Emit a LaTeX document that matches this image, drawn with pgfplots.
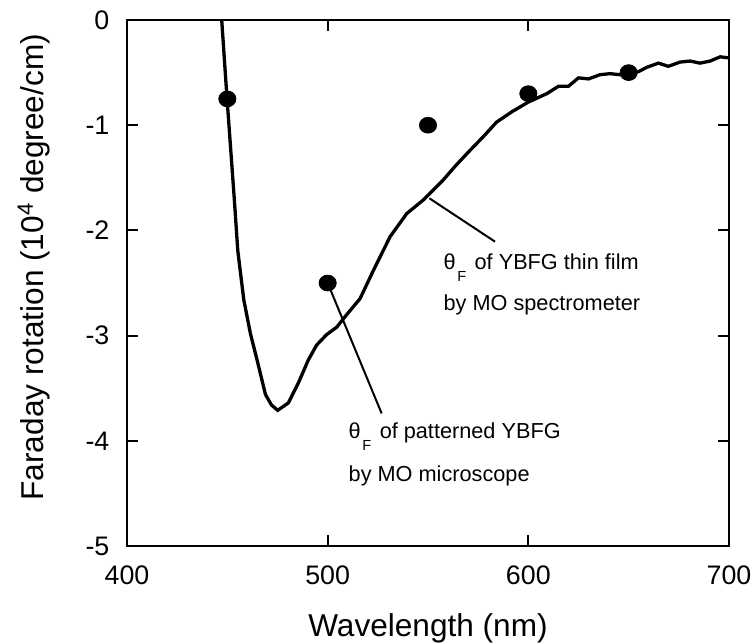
\documentclass[border=0pt]{standalone}
\usepackage{fontspec}
\setmainfont{Liberation Sans}
\usepackage{pgfplots}
\pgfplotsset{compat=1.18}
\begin{document}
\begin{tikzpicture}
\begin{axis}[
 width=301pt, height=263pt, scale only axis,
 xmin=400, xmax=700, ymin=-5, ymax=0,
 xtick={400,500,600,700}, ytick={-5,-4,-3,-2,-1,0},
 tick align=inside, tick pos=both,
 major tick length=5.5pt,
 axis line style={line width=1pt},
 every tick/.style={black, line width=1pt},
 /pgf/number format/assume math mode=true,
 ticklabel style={font=\fontsize{13.4}{15}\selectfont},
 xticklabel style={yshift=-6.3pt},
 yticklabel style={xshift=-5.3pt},
 xlabel={Wavelength (nm)},
 ylabel={Faraday rotation (10\textsuperscript{4} degree/cm)},
 label style={font=\fontsize{15.8}{18}\selectfont},
 xlabel style={at={(axis description cs:0.5,-0.1724)}, anchor=base},
 ylabel style={at={(axis description cs:-0.139,0.53)}, anchor=base},
 clip=true,
]
\coordinate (SW) at (rel axis cs:0,0);
\addplot[black, line width=1.65pt, mark=none] coordinates {
(447.2,0) (449.9,-0.76) (453.5,-1.71) (455.2,-2.19) (458.2,-2.66) (461.5,-2.98)
(464.8,-3.23) (469,-3.56) (472,-3.66) (475.1,-3.71) (480.4,-3.64) (485.4,-3.45)
(490.4,-3.23) (494.5,-3.09) (499.5,-2.99) (504.5,-2.92) (509.5,-2.80) (516.1,-2.65)
(522.8,-2.38) (531.1,-2.06) (539.4,-1.84) (547.7,-1.71) (557.6,-1.52) (564,-1.38)
(570.9,-1.24) (578,-1.10) (584.2,-0.97) (592,-0.87) (600,-0.78) (609.2,-0.70)
(615,-0.63) (620,-0.63) (625,-0.55) (630,-0.56) (635.7,-0.52) (640.7,-0.51)
(645.7,-0.52) (650,-0.51) (655,-0.49) (659,-0.45) (664.8,-0.41) (669.8,-0.44)
(675.6,-0.40) (680.6,-0.39) (685.6,-0.41) (690.6,-0.39) (695.6,-0.35) (700,-0.36)
};
\addplot[only marks, mark=*, mark size=4.3pt, mark options={black, fill=black, yscale=0.92}] coordinates {
(450,-0.75) (500,-2.5) (550,-1.0) (600,-0.7) (650,-0.5)
};
\draw[line width=1pt] (axis cs:550.7,-1.695) -- (axis cs:583.4,-2.107);
\draw[line width=1pt] (axis cs:500,-2.5) -- (axis cs:526.9,-3.74);
\node[anchor=base west, inner sep=0pt, font=\fontsize{10.85}{13}\selectfont] at (axis cs:557.6,-2.37)
 {θ\hspace{0.8pt}\raisebox{-6.2pt}{\fontsize{7.3}{8}\selectfont F}\hspace{1.2pt} of YBFG thin film};
\node[anchor=base west, inner sep=0pt, font=\fontsize{10.85}{13}\selectfont] at (axis cs:557.6,-2.757)
 {by MO spectrometer};
\node[anchor=base west, inner sep=0pt, font=\fontsize{10.85}{13}\selectfont] at (axis cs:510.3,-3.976)
 {θ\hspace{0.8pt}\raisebox{-6.2pt}{\fontsize{7.3}{8}\selectfont F}\hspace{1.2pt} of patterned YBFG};
\node[anchor=base west, inner sep=0pt, font=\fontsize{10.85}{13}\selectfont] at (axis cs:510.3,-4.389)
 {by MO microscope};
\end{axis}
\pgfresetboundingbox
\path[use as bounding box] ([xshift=-63.5pt,yshift=-48.5pt]SW) rectangle ++(377pt,321.5pt);
\end{tikzpicture}
\end{document}
